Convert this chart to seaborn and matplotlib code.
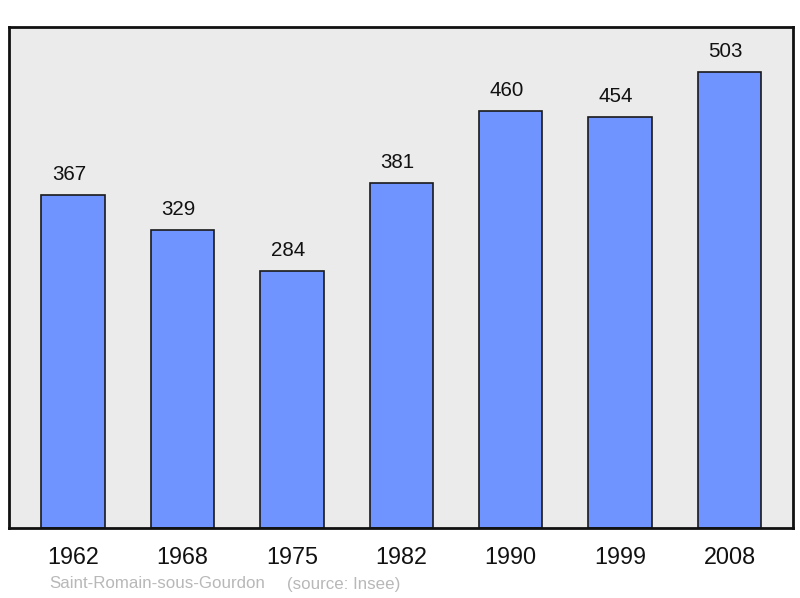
import pandas as pd
import matplotlib.pyplot as plt
import seaborn as sns

years = ["1962", "1968", "1975", "1982", "1990", "1999", "2008"]
population = [367, 329, 284, 381, 460, 454, 503]
commune = "Saint-Romain-sous-Gourdon"
source = "(source: Insee)"

df = pd.DataFrame({"year": years, "pop": population})

sns.set_style("white")
plt.rcParams["font.family"] = ["Liberation Sans", "DejaVu Sans"]

fig = plt.figure(figsize=(8, 5.98), dpi=100)
ax = fig.add_axes([0.01125, 0.1171, 0.98, 0.8378])
ax.set_facecolor("#ebebeb")

sns.barplot(data=df, x="year", y="pop", color="#7094ff", saturation=1,
            width=0.58, edgecolor="#1a1a1a", linewidth=1.2, ax=ax)

# value labels sit a bit left of the bar centre, like the original
for i, v in enumerate(population):
    ax.annotate(str(v), (i, v), xytext=(-3, 8), textcoords="offset points",
                ha="center", va="bottom", fontsize=14.8, color="#111111")

ax.set_xlim(-0.585, 6.58)
ax.set_ylim(0, 553)
ax.set_yticks([])
ax.set_xlabel("")
ax.set_ylabel("")
ax.tick_params(axis="x", length=0, labelsize=16.8, pad=13, colors="#111111")
for s in ax.spines.values():
    s.set_visible(True)
    s.set_linewidth(2)
    s.set_color("#111111")

fig.text(49 / 800, 1 - 584 / 598, commune, fontsize=12.2, color="#b8b8b8",
         va="center", ha="left")
fig.text(287 / 800, 1 - 584 / 598, source, fontsize=12.2, color="#b8b8b8",
         va="center", ha="left")

fig.savefig("out.png", dpi=100)
